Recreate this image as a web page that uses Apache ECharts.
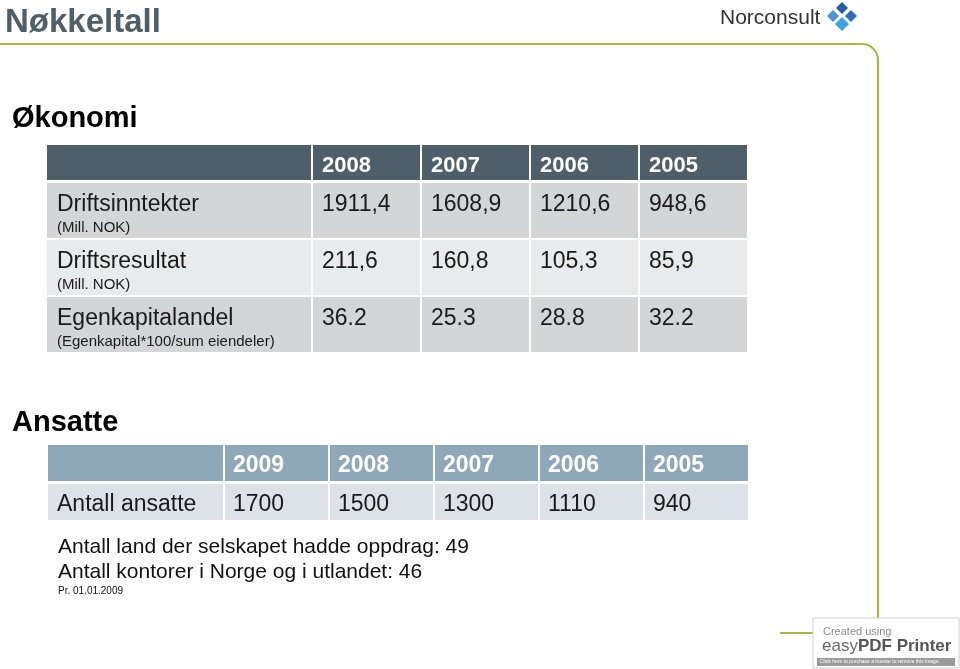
<!DOCTYPE html>
<html>
<head>
<meta charset="utf-8">
<script src="https://cdn.jsdelivr.net/npm/echarts@6/dist/echarts.min.js"></script>
<style>
  html, body { margin: 0; padding: 0; background: #fff; }
  #echarts_id { width: 960px; height: 669px; }
</style>
</head>
<body>
<div id="echarts_id"></div>
<script>
// data: Økonomi
var years1 = ['2008', '2007', '2006', '2005'];
var rows1 = ['Driftsinntekter', 'Driftsresultat', 'Egenkapitalandel'];
var units1 = ['(Mill. NOK)', '(Mill. NOK)', '(Egenkapital*100/sum eiendeler)'];
var driftsinntekter = [1911.4, 1608.9, 1210.6, 948.6];
var driftsresultat = [211.6, 160.8, 105.3, 85.9];
var egenkapitalandel = [36.2, 25.3, 28.8, 32.2];
var decimalSep1 = [',', ',', '.'];

// data: Ansatte
var years2 = ['2009', '2008', '2007', '2006', '2005'];
var rows2 = ['Antall ansatte'];
var antallAnsatte = [1700, 1500, 1300, 1110, 940];
var notes = ['Antall land der selskapet hadde oppdrag: 49', 'Antall kontorer i Norge og i utlandet: 46'];
var noteDate = 'Pr. 01.01.2009';

var FF = '"Liberation Sans", Arial, sans-serif';
var green = '#a9b441';

var myChart = echarts.init(document.getElementById('echarts_id'));

// one cell = rect with 1px inset + texts
function cellSeries(gridIndex, cells, fill, texts) {
    return {
        type: 'custom',
        xAxisIndex: gridIndex,
        yAxisIndex: gridIndex,
        silent: true,
        animation: false,
        encode: { x: 0, y: 1 },
        data: cells.map(function (c) { return [c[0], c[1]]; }),
        renderItem: function (params, api) {
            var c = api.coord([api.value(0), api.value(1)]);
            var s = api.size([1, 1]);
            var x0 = c[0] - s[0] / 2, y0 = c[1] - s[1] / 2;
            var row = api.value(1);
            var children = [{
                type: 'rect',
                shape: { x: x0 + 1, y: y0 + 1, width: s[0] - 2, height: s[1] - 2 },
                style: { fill: typeof fill === 'function' ? fill(row) : fill }
            }];
            texts(cells[params.dataIndex]).forEach(function (t) {
                children.push({
                    type: 'text',
                    x: x0 + t.dx,
                    y: t.dy == null ? c[1] + 3 : y0 + t.dy,
                    style: { text: t.text, font: t.font, fill: t.color, verticalAlign: 'middle' }
                });
            });
            return { type: 'group', children: children };
        }
    };
}

function fmt(v, sep) {
    return v.toFixed(1).replace('.', sep);
}

// grid layout
var grids = [
    { left: 46, top: 144, width: 266, height: 37 },   // 0 t1 head blank
    { left: 312, top: 144, width: 436, height: 37 },  // 1 t1 head years
    { left: 46, top: 182, width: 266, height: 171 },  // 2 t1 labels
    { left: 312, top: 182, width: 436, height: 171 }, // 3 t1 values
    { left: 47, top: 444, width: 177, height: 38 },   // 4 t2 head blank
    { left: 224, top: 444, width: 525, height: 38 },  // 5 t2 head years
    { left: 47, top: 483, width: 177, height: 38 },   // 6 t2 labels
    { left: 224, top: 483, width: 525, height: 38 }   // 7 t2 values
];
var xCats = [[''], years1, [''], years1, [''], years2, [''], years2];
var yCats = [[''], [''], rows1, rows1, [''], [''], rows2, rows2];

function hiddenAxis(i, data, isY) {
    return {
        type: 'category', gridIndex: i, data: data, inverse: !!isY,
        axisLine: { show: false }, axisTick: { show: false },
        axisLabel: { show: false }, splitLine: { show: false }
    };
}

var values1 = [driftsinntekter, driftsresultat, egenkapitalandel];
var fill1 = ['#d3d5d7', '#e9eaeb', '#d3d5d7'];

var t1Head = years1.map(function (y, i) { return [i, 0, y]; });
var t1Labels = rows1.map(function (r, i) { return [0, i, r, units1[i]]; });
var t1Vals = [];
values1.forEach(function (arr, r) {
    arr.forEach(function (v, c) { t1Vals.push([c, r, fmt(v, decimalSep1[r])]); });
});
var t2Head = years2.map(function (y, i) { return [i, 0, y]; });
var t2Labels = rows2.map(function (r, i) { return [0, i, r]; });
var t2Vals = antallAnsatte.map(function (v, i) { return [i, 0, String(v)]; });

var noText = function () { return []; };

var series = [
    cellSeries(0, [[0, 0]], '#4e5f69', noText),
    cellSeries(1, t1Head, '#4e5f69', function (d) {
        return [{ text: d[2], dx: 10, font: 'bold 22px ' + FF, color: '#ffffff' }];
    }),
    cellSeries(2, t1Labels, function (r) { return fill1[r]; }, function (d) {
        return [
            { text: d[2], dx: 11, dy: 23, font: '23px ' + FF, color: '#1a1a1a' },
            { text: d[3], dx: 11, dy: 46, font: '15px ' + FF, color: '#1a1a1a' }
        ];
    }),
    cellSeries(3, t1Vals, function (r) { return fill1[r]; }, function (d) {
        return [{ text: d[2], dx: 10, dy: 23, font: '23px ' + FF, color: '#1a1a1a' }];
    }),
    cellSeries(4, [[0, 0]], '#8ea7b9', noText),
    cellSeries(5, t2Head, '#8ea7b9', function (d) {
        return [{ text: d[2], dx: 9, font: 'bold 23px ' + FF, color: '#ffffff' }];
    }),
    cellSeries(6, t2Labels, '#dde2e8', function (d) {
        return [{ text: d[2], dx: 10, font: '23px ' + FF, color: '#1a1a1a' }];
    }),
    cellSeries(7, t2Vals, '#dde2e8', function (d) {
        return [{ text: d[2], dx: 9, font: '23px ' + FF, color: '#1a1a1a' }];
    })
];

function diamond(cx, cy, r, color) {
    return {
        type: 'polygon',
        shape: { points: [[cx, cy - r], [cx + r, cy], [cx, cy + r], [cx - r, cy]] },
        style: { fill: color }
    };
}

var frameStyle = { fill: 'none', stroke: green, lineWidth: 2 };

option = {
    backgroundColor: '#ffffff',
    animation: false,
    grid: grids,
    xAxis: xCats.map(function (d, i) { return hiddenAxis(i, d, false); }),
    yAxis: yCats.map(function (d, i) { return hiddenAxis(i, d, true); }),
    series: series,
    graphic: [
        // frame
        { type: 'line', shape: { x1: 0, y1: 44, x2: 862, y2: 44 }, style: frameStyle },
        { type: 'arc', shape: { cx: 862, cy: 60, r: 16, startAngle: -Math.PI / 2, endAngle: 0, clockwise: true }, style: frameStyle },
        { type: 'line', shape: { x1: 878, y1: 60, x2: 878, y2: 617 }, style: frameStyle },
        { type: 'arc', shape: { cx: 862, cy: 617, r: 16, startAngle: 0, endAngle: Math.PI / 2, clockwise: true }, style: frameStyle },
        { type: 'line', shape: { x1: 862, y1: 633, x2: 780, y2: 633 }, style: frameStyle },
        { type: 'text', x: 5, y: 23, style: { text: 'Nøkkeltall', font: 'bold 33px ' + FF, fill: '#4e5f69', verticalAlign: 'middle' } },
        // logo
        { type: 'text', x: 720, y: 18, style: { text: 'Norconsult', font: '21px ' + FF, fill: '#333333', verticalAlign: 'middle' } },
        diamond(842, 8, 6, '#2a5ca6'),
        diamond(833, 16, 6, '#4b92d2'),
        diamond(851, 16, 6, '#2e6db6'),
        diamond(842, 24, 7, '#3da2df'),
        // headings
        { type: 'text', x: 12, y: 119, style: { text: 'Økonomi', font: 'bold 29px ' + FF, fill: '#000000', verticalAlign: 'middle' } },
        { type: 'text', x: 12, y: 423, style: { text: 'Ansatte', font: 'bold 29px ' + FF, fill: '#000000', verticalAlign: 'middle' } },
        // notes
        { type: 'text', x: 58, y: 547, style: { text: notes[0], font: '21px ' + FF, fill: '#111111', verticalAlign: 'middle' } },
        { type: 'text', x: 58, y: 572, style: { text: notes[1], font: '21px ' + FF, fill: '#111111', verticalAlign: 'middle' } },
        { type: 'text', x: 58, y: 591, style: { text: noteDate, font: '10px ' + FF, fill: '#111111', verticalAlign: 'middle' } },
        // watermark
        { type: 'rect', shape: { x: 813, y: 618, width: 146, height: 50 }, style: { fill: '#ffffff', stroke: '#d0d0d0', lineWidth: 1 } },
        { type: 'text', x: 823, y: 632, style: { text: 'Created using', font: '11px ' + FF, fill: '#8a8a8a', verticalAlign: 'middle' } },
        {
            type: 'text', x: 822, y: 646,
            style: {
                text: '{a|easy}{b|PDF Printer}',
                verticalAlign: 'middle',
                rich: {
                    a: { font: '17px ' + FF, fill: '#6a6a6a' },
                    b: { font: 'bold 17px ' + FF, fill: '#555555' }
                }
            }
        },
        { type: 'rect', shape: { x: 817, y: 658, width: 138, height: 8 }, style: { fill: '#9a9a9a' } },
        { type: 'text', x: 820, y: 662, style: { text: 'Click here to purchase a license to remove this image', font: '5px ' + FF, fill: '#ffffff', verticalAlign: 'middle' } }
    ]
};

myChart.setOption(option);
</script>
</body>
</html>
